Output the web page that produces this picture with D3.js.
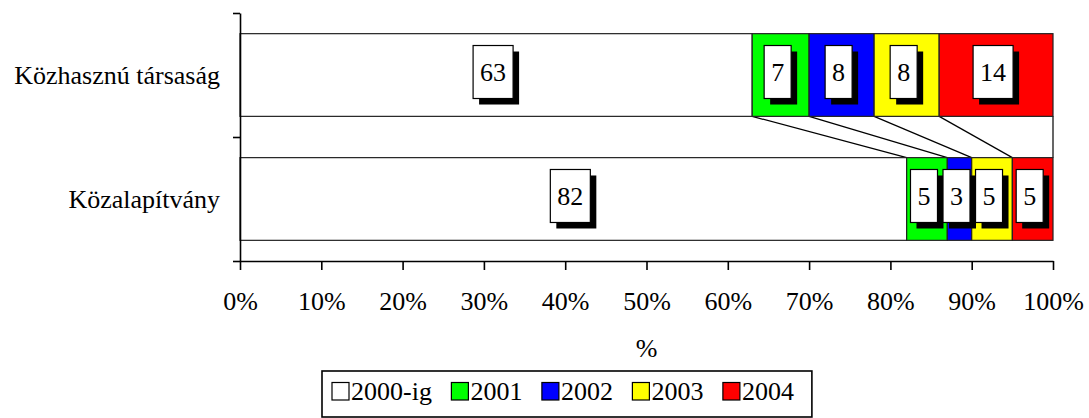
<!DOCTYPE html>
<html>
<head>
<meta charset="utf-8">
<script src="https://cdn.jsdelivr.net/npm/d3@7"></script>
<style>
  html, body { margin: 0; padding: 0; background: #fff; }
  svg { display: block; }
  svg text { font-family: "Liberation Serif", Tinos, "Times New Roman", "DejaVu Serif", serif; }
</style>
</head>
<body>
<svg id="chart" width="1089" height="418"></svg>
<script>
// Organisation types (rows) and the share founded in each period (%)
const categories = ["Közhasznú társaság", "Közalapítvány"];
const seriesNames = ["2000-ig", "2001", "2002", "2003", "2004"];
const until2000 = [63, 82];
const in2001 = [7, 5];
const in2002 = [8, 3];
const in2003 = [8, 5];
const in2004 = [14, 5];
const xTickValues = [0, 10, 20, 30, 40, 50, 60, 70, 80, 90, 100];
const axisTitle = "%";

const palette = ["#ffffff", "#00ff00", "#0000ff", "#ffff00", "#ff0000"];

const rows = categories.map((c, i) => ({
  category: c,
  "2000-ig": until2000[i],
  "2001": in2001[i],
  "2002": in2002[i],
  "2003": in2003[i],
  "2004": in2004[i]
}));

const svg = d3.select("#chart");
const FONT = 26;

const plot = { left: 240, right: 1053, top: 13, bottom: 261 };

const x = d3.scaleLinear().domain([0, 100]).range([plot.left, plot.right]);
const y = d3.scaleBand()
  .domain(categories)
  .range([plot.top, plot.bottom])
  .paddingInner(0.333)
  .paddingOuter(0.1667);
const yEdge = d3.scaleLinear().domain([0, categories.length]).range([plot.bottom, plot.top]);
const color = d3.scaleOrdinal().domain(seriesNames).range(palette);

const stacked = d3.stack().keys(seriesNames)(rows);

// Series lines joining the segment boundaries of neighbouring bars
const lines = svg.append("g").attr("class", "series-lines");
for (let i = 0; i < categories.length - 1; i++) {
  const a = categories[i], b = categories[i + 1];
  stacked.forEach(layer => {
    const xa = x(layer[i][1]), xb = x(layer[i + 1][1]);
    lines.append("line")
      .attr("x1", xa).attr("y1", y(a) + y.bandwidth())
      .attr("x2", xb).attr("y2", y(b))
      .attr("stroke", "#000").attr("stroke-width", 1.2);
  });
}

// Stacked bar segments
const layers = svg.append("g").attr("class", "bars")
  .selectAll("g").data(stacked).join("g")
  .attr("fill", d => color(d.key));

layers.selectAll("rect")
  .data(d => d.map(v => ({ key: d.key, v, cat: v.data.category })))
  .join("rect")
  .attr("x", d => x(d.v[0]))
  .attr("y", d => y(d.cat))
  .attr("width", d => x(d.v[1]) - x(d.v[0]))
  .attr("height", y.bandwidth())
  .attr("stroke", "#222")
  .attr("stroke-width", 1.2);

// Axes
const xAxis = svg.append("g")
  .attr("transform", `translate(0,${plot.bottom})`)
  .call(d3.axisBottom(x).tickValues(xTickValues).tickFormat(d => d + "%")
    .tickSize(9).tickSizeOuter(0).tickPadding(21.5));

const yAxis = svg.append("g")
  .attr("transform", `translate(${plot.left},0)`)
  .call(d3.axisLeft(yEdge).tickValues(d3.range(categories.length + 1))
    .tickFormat("").tickSize(7).tickSizeOuter(0));

[xAxis, yAxis].forEach(g => {
  g.attr("font-family", null).attr("font-size", null);
  g.selectAll("path, line").attr("stroke", "#000").attr("stroke-width", 1.6);
  g.selectAll("text").attr("fill", "#000").attr("font-size", FONT);
});

// Category labels
svg.append("g").selectAll("text").data(categories).join("text")
  .attr("x", 220)
  .attr("y", d => y(d) + y.bandwidth() / 2)
  .attr("dy", "0.35em")
  .attr("text-anchor", "end")
  .attr("font-size", FONT)
  .text(d => d);

// Axis title
svg.append("text")
  .attr("x", (plot.left + plot.right) / 2)
  .attr("y", 357)
  .attr("text-anchor", "middle")
  .attr("font-size", FONT)
  .text(axisTitle);

// Value labels: white boxes with a drop shadow
const labels = svg.append("g").attr("class", "value-labels");
const SHADOW = 6, PADX = 7, BOXH = 53;
stacked.forEach(layer => {
  layer.forEach(v => {
    const value = v[1] - v[0];
    const cx = (x(v[0]) + x(v[1])) / 2 - SHADOW / 2;
    const cy = y(v.data.category) + y.bandwidth() / 2 - 3;
    const g = labels.append("g");
    const shadow = g.append("rect").attr("fill", "#000");
    const box = g.append("rect").attr("fill", "#fff").attr("stroke", "#000").attr("stroke-width", 1.2);
    const t = g.append("text")
      .attr("x", cx).attr("y", cy)
      .attr("dy", "0.35em")
      .attr("text-anchor", "middle")
      .attr("font-size", FONT)
      .text(value);
    const w = t.node().getComputedTextLength() + PADX * 2;
    box.attr("x", cx - w / 2).attr("y", cy - BOXH / 2).attr("width", w).attr("height", BOXH);
    shadow.attr("x", cx - w / 2 + SHADOW).attr("y", cy - BOXH / 2 + SHADOW).attr("width", w).attr("height", BOXH);
  });
});

// Legend
const legend = svg.append("g").attr("class", "legend");
const legendFrame = legend.append("rect")
  .attr("fill", "#fff").attr("stroke", "#000").attr("stroke-width", 1.6);
let lx = 332;
const SW = 17, ITEMGAP = 19.5;
seriesNames.forEach(name => {
  legend.append("rect")
    .attr("x", lx).attr("y", 382.5)
    .attr("width", SW).attr("height", 17.5)
    .attr("fill", color(name)).attr("stroke", "#000").attr("stroke-width", 1.2);
  const t = legend.append("text")
    .attr("x", lx + SW + 2).attr("y", 400)
    .attr("font-size", FONT)
    .text(name);
  lx += SW + 2 + t.node().getComputedTextLength() + ITEMGAP;
});
legendFrame.attr("x", 322).attr("y", 371)
  .attr("width", lx - ITEMGAP + 18 - 322).attr("height", 46);
</script>
</body>
</html>
